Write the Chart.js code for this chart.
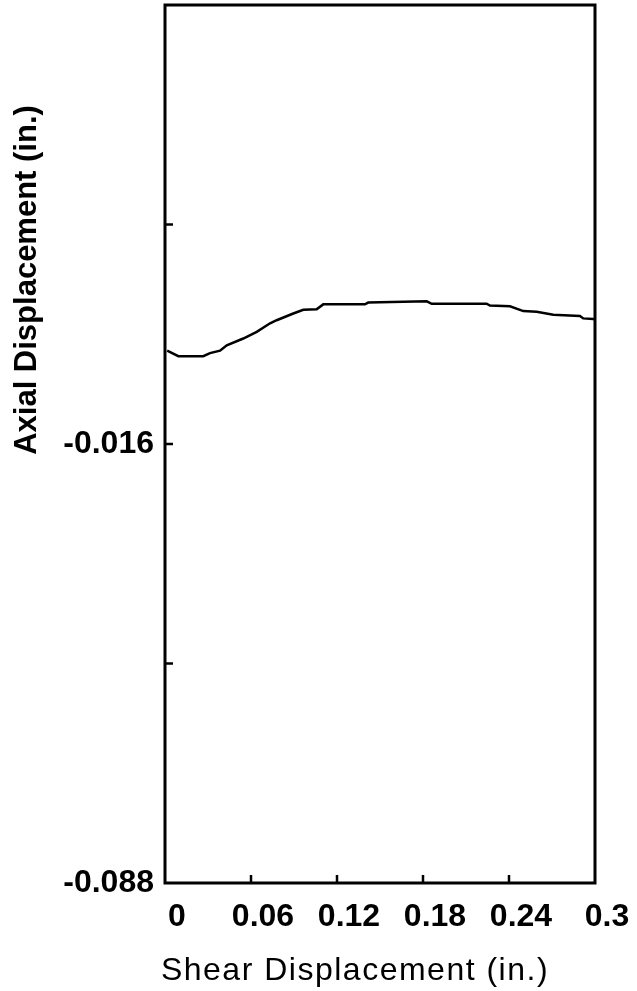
<!DOCTYPE html>
<html>
<head>
<meta charset="utf-8">
<script src="https://cdn.jsdelivr.net/npm/chart.js@4"></script>
<style>
  html, body { margin: 0; padding: 0; background: #fff; }
  #wrap { width: 637px; height: 991px; position: relative; }
</style>
</head>
<body>
<div id="wrap"><canvas id="c" width="637" height="991"></canvas></div>
<script>
// Shear displacement (in.)
const shear = [0.0015, 0.0093, 0.0267, 0.0314, 0.0384, 0.0431, 0.0546, 0.0640, 0.0733, 0.0779,
               0.0895, 0.0965, 0.1058, 0.1104, 0.1395, 0.1418, 0.1826, 0.1861, 0.2244, 0.2267,
               0.2407, 0.2500, 0.2593, 0.2709, 0.2895, 0.2918, 0.2988, 0.3000];
// Axial displacement (in.)
const axial = [-0.0007, -0.0016, -0.0016, -0.0011, -0.0007, 0.0002, 0.0013, 0.0024, 0.0038, 0.0043,
               0.0054, 0.0060, 0.0061, 0.0069, 0.0069, 0.0072, 0.0074, 0.0070, 0.0070, 0.0067,
               0.0066, 0.0058, 0.0057, 0.0052, 0.0050, 0.0046, 0.0045, 0.0044];

const xTicks = [0, 0.06, 0.12, 0.18, 0.24, 0.3];
const xTickLabels = ['0', '0.06', '0.12', '0.18', '0.24', '0.3'];
const yTicks = [-0.088, -0.052, -0.016, 0.020, 0.056];
const yTickLabels = ['-0.088', '', '-0.016', '', ''];

const xTitle = 'Shear Displacement (in.)';
const yTitle = 'Axial Displacement (in.)';

const FONT = '"Liberation Sans", Arial, Helvetica, sans-serif';

// Frame, inward tick marks and the two axis titles
const framePlugin = {
  id: 'frame',
  afterDraw(chart) {
    const ctx = chart.ctx;
    const a = chart.chartArea;
    const xs = chart.scales.x, ys = chart.scales.y;
    ctx.save();
    ctx.strokeStyle = '#000';
    ctx.lineWidth = 3;
    ctx.strokeRect(a.left, a.top, a.right - a.left, a.bottom - a.top);
    ctx.lineWidth = 2.5;
    ctx.beginPath();
    xTicks.slice(1, -1).forEach(v => {
      const px = xs.getPixelForValue(v);
      ctx.moveTo(px, a.bottom);
      ctx.lineTo(px, a.bottom - 8);
    });
    yTicks.slice(1, -1).forEach(v => {
      const py = ys.getPixelForValue(v);
      ctx.moveTo(a.left, py);
      ctx.lineTo(a.left + 8, py);
    });
    ctx.stroke();

    ctx.fillStyle = '#000';
    ctx.textAlign = 'center';
    ctx.textBaseline = 'alphabetic';
    ctx.font = '32px ' + FONT;
    ctx.letterSpacing = '1.5px';
    ctx.fillText(xTitle, 355, 980);

    ctx.translate(36, 280);
    ctx.rotate(-Math.PI / 2);
    ctx.font = 'bold 31px ' + FONT;
    ctx.letterSpacing = '0px';
    ctx.fillText(yTitle, 0, 0);
    ctx.restore();
  }
};

new Chart(document.getElementById('c'), {
  type: 'line',
  data: {
    datasets: [{
      data: shear.map((x, i) => ({ x: x, y: axial[i] })),
      borderColor: '#000',
      borderWidth: 2.5,
      pointRadius: 0,
      tension: 0,
      fill: false
    }]
  },
  options: {
    responsive: false,
    animation: false,
    layout: { padding: { top: 5, right: 42, left: 0, bottom: 0 } },
    plugins: { legend: { display: false }, tooltip: { enabled: false }, title: { display: false } },
    scales: {
      x: {
        type: 'linear',
        min: 0, max: 0.3,
        grid: { display: false, drawTicks: false },
        border: { display: false },
        afterBuildTicks(s) { s.ticks = xTicks.map(v => ({ value: v })); },
        afterFit(s) { s.height = 108; s.paddingLeft = 0; s.paddingRight = 0; },
        ticks: {
          color: '#000',
          padding: 15,
          labelOffset: 12,
          maxRotation: 0,
          autoSkip: false,
          font: { family: FONT, size: 32, weight: 'bold' },
          callback: (v, i) => xTickLabels[i]
        }
      },
      y: {
        type: 'linear',
        min: -0.088, max: 0.056,
        grid: { display: false, drawTicks: false },
        border: { display: false },
        afterBuildTicks(s) { s.ticks = yTicks.map(v => ({ value: v })); },
        afterFit(s) { s.width = 165; s.paddingTop = 0; s.paddingBottom = 0; },
        ticks: {
          color: '#000',
          padding: 11,
          autoSkip: false,
          font: { family: FONT, size: 32, weight: 'bold' },
          callback: (v, i) => yTickLabels[i]
        }
      }
    }
  },
  plugins: [framePlugin]
});
</script>
</body>
</html>
